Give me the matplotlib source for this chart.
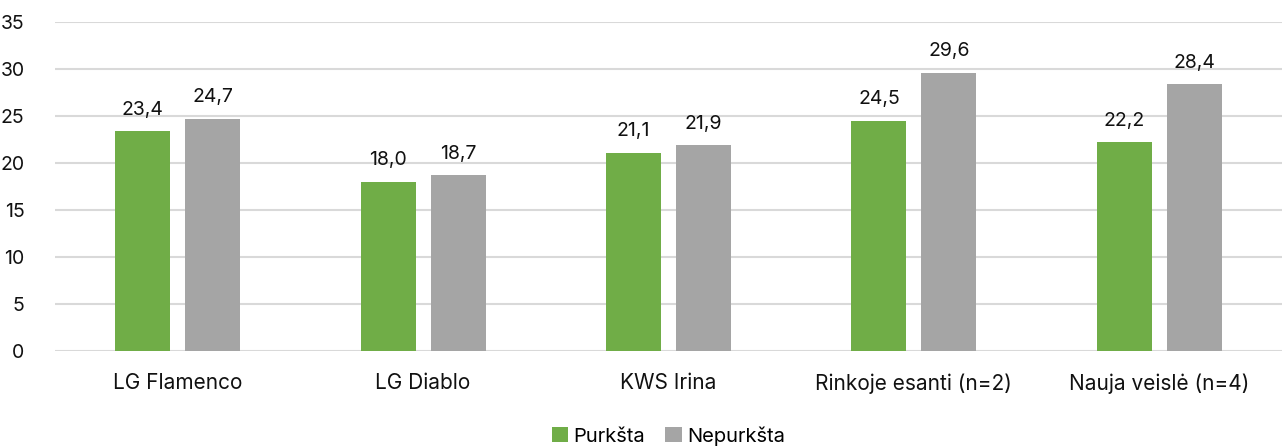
import matplotlib
matplotlib.use("Agg")
import matplotlib.pyplot as plt
import numpy as np

plt.rcParams['font.family'] = ['Inter', 'DejaVu Sans']

categories = ["LG Flamenco", "LG Diablo", "KWS Irina", "Rinkoje esanti (n=2)", "Nauja veislė (n=4)"]
purksta = [23.4, 18.0, 21.1, 24.5, 22.2]
nepurksta = [24.7, 18.7, 21.9, 29.6, 28.4]
series_names = ["Purkšta", "Nepurkšta"]
yticks = [0, 5, 10, 15, 20, 25, 30, 35]

green = "#70AD47"
gray = "#A5A5A5"

fig = plt.figure(figsize=(12.82, 4.47), dpi=100)
ax = fig.add_axes([55 / 1282, 1 - 351 / 447, 1227 / 1282, 329 / 447])

x = np.arange(len(categories))
w = 0.224
off = 0.1426
b1 = ax.bar(x - off, purksta, w, color=green, zorder=3, label=series_names[0])
b2 = ax.bar(x + off, nepurksta, w, color=gray, zorder=3, label=series_names[1])

for bars, vals in ((b1, purksta), (b2, nepurksta)):
    for r, v in zip(bars, vals):
        ax.annotate(f"{v:.1f}".replace(".", ","),
                    (r.get_x() + r.get_width() / 2, v),
                    xytext=(0, 9), textcoords="offset points",
                    ha="center", va="bottom", fontsize=14, color="#111111")

ax.set_xlim(-0.5, len(categories) - 0.5)
ax.set_ylim(0, 35)
ax.set_yticks(yticks)
ax.set_yticklabels([str(t) for t in yticks], fontsize=14, color="#111111")
ax.set_xticks(x)
ax.set_xticklabels(categories, fontsize=15, color="#111111")
ax.tick_params(axis="both", length=0)
ax.tick_params(axis="y", pad=22)
ax.tick_params(axis="x", pad=16)
ax.grid(axis="y", color="#D9D9D9", linewidth=1.5, zorder=0)
for s in ax.spines.values():
    s.set_visible(False)

ax.legend(loc="center", bbox_to_anchor=(0.5, (1 - 436 / 447 - (1 - 351 / 447)) / (329 / 447)),
          ncol=2, frameon=False, fontsize=14.5, handlelength=0.8, handleheight=0.8,
          handletextpad=0.3, columnspacing=1.0)

fig.savefig("out.png", dpi=100)
